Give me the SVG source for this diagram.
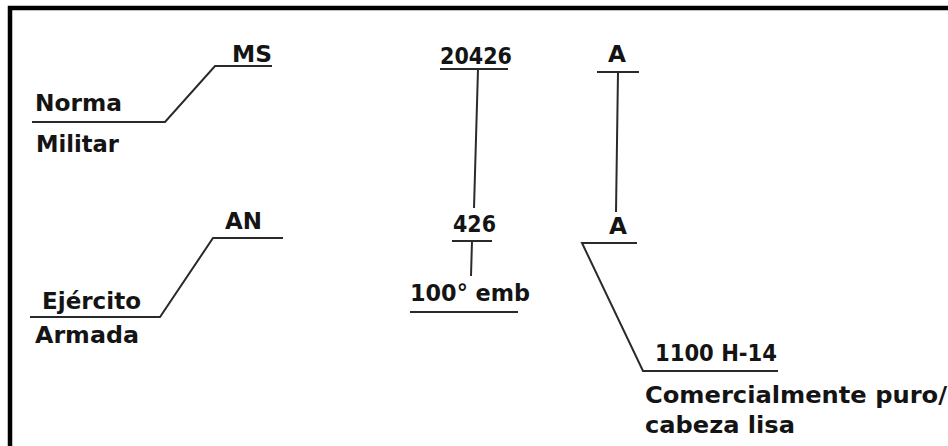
<svg xmlns="http://www.w3.org/2000/svg" width="948" height="446" viewBox="0 0 948 446">
<style>
text{font-family:"DejaVu Sans","Verdana",sans-serif;font-weight:bold;font-size:23px;fill:#141414}
.ln{fill:none;stroke:#2a2a2a;stroke-width:2;stroke-linejoin:miter}
.frame{fill:none;stroke:#000;stroke-width:4.5}
</style>
<rect width="948" height="446" fill="#fff"/>
<path class="frame" d="M10,446 V8 H948"/>
<g id="connectors">
<path class="ln" d="M32,122 H165 L215,66 H272"/>
<path class="ln" d="M30,317 H160 L213,238 H283"/>
<path class="ln" d="M440,69 H508 M478,69 L474,208"/>
<path class="ln" d="M452,241 H492 M472,241 L471,276"/>
<path class="ln" d="M410,312 H518"/>
<path class="ln" d="M597,72 H639 M618,72 L616,212"/>
<path class="ln" d="M637,243 H582 L643,371 H778"/>
</g>
<g id="norma-militar">
<text x="35" y="111" textLength="87" lengthAdjust="spacingAndGlyphs">Norma</text>
<text x="36" y="152" textLength="83" lengthAdjust="spacingAndGlyphs">Militar</text>
</g>
<g id="ms"><text x="232" y="62" textLength="40" lengthAdjust="spacingAndGlyphs">MS</text></g>
<g id="ejercito-armada">
<text x="42" y="309" textLength="99" lengthAdjust="spacingAndGlyphs">Ejército</text>
<text x="35" y="343" textLength="104" lengthAdjust="spacingAndGlyphs">Armada</text>
</g>
<g id="an"><text x="225" y="229" textLength="37" lengthAdjust="spacingAndGlyphs">AN</text></g>
<g id="n20426"><text x="440" y="64" textLength="72" lengthAdjust="spacingAndGlyphs">20426</text></g>
<g id="n426"><text x="453" y="232" textLength="43" lengthAdjust="spacingAndGlyphs">426</text></g>
<g id="emb"><text x="410" y="301" textLength="120" lengthAdjust="spacingAndGlyphs">100° emb</text></g>
<g id="a-top"><text x="608" y="62" textLength="18" lengthAdjust="spacingAndGlyphs">A</text></g>
<g id="a-bottom"><text x="609" y="234" textLength="18" lengthAdjust="spacingAndGlyphs">A</text></g>
<g id="h14"><text x="655" y="361" textLength="122" lengthAdjust="spacingAndGlyphs">1100 H-14</text></g>
<g id="comercial">
<text x="645" y="403" textLength="302" lengthAdjust="spacingAndGlyphs">Comercialmente puro/</text>
<text x="645" y="433" textLength="150" lengthAdjust="spacingAndGlyphs">cabeza lisa</text>
</g>
</svg>
